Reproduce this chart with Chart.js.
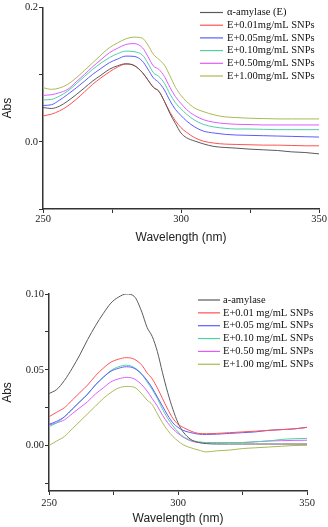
<!DOCTYPE html>
<html>
<head>
<meta charset="utf-8">
<script src="https://cdn.jsdelivr.net/npm/chart.js@4.4.1/dist/chart.umd.min.js"></script>
<style>
  html, body { margin: 0; padding: 0; background: #fff; }
  .box { position: absolute; left: 0; width: 328px; }
</style>
</head>
<body>
<div class="box" style="top:0;height:260px"><canvas id="top"></canvas></div>
<div class="box" style="top:260px;height:267px"><canvas id="bottom"></canvas></div>
<script>
// wavelengths (nm)
const wlTop = [250, 253, 256, 259, 262, 265, 268, 271, 274, 277, 280, 283, 286, 288, 290, 292, 294, 296, 298, 300, 302, 305, 308, 312, 316, 320, 325, 330, 335, 340, 345, 350];
const wlBottom = [250, 253, 256, 259, 262, 265, 268, 271, 274, 277, 280, 283, 286, 288, 290, 292, 294, 296, 298, 300, 302, 305, 308, 311, 315, 320, 325, 330, 335, 340, 345, 350];

const labelsTop = ['\u03b1-amylase (E)', 'E+0.01mg/mL SNPs', 'E+0.05mg/mL SNPs', 'E+0.10mg/mL SNPs', 'E+0.50mg/mL SNPs', 'E+1.00mg/mL SNPs'];
const labelsBottom = ['a-amylase', 'E+0.01 mg/mL SNPs', 'E+0.05 mg/mL SNPs', 'E+0.10 mg/mL SNPs', 'E+0.50 mg/mL SNPs', 'E+1.00 mg/mL SNPs'];

// top panel absorbance
const topEnzyme = [0.051, 0.0495, 0.053, 0.0607, 0.070, 0.080, 0.0904, 0.099, 0.1077, 0.113, 0.116, 0.1135, 0.103, 0.092, 0.081, 0.075, 0.060, 0.042, 0.027, 0.013, 0.006, 0.001, -0.003, -0.007, -0.0085, -0.0095, -0.011, -0.012, -0.013, -0.015, -0.016, -0.018];
const top001 = [0.0385, 0.041, 0.046, 0.0533, 0.063, 0.074, 0.0855, 0.095, 0.1037, 0.111, 0.1155, 0.1135, 0.103, 0.092, 0.081, 0.075, 0.060, 0.044, 0.031, 0.021, 0.014, 0.006, 0.001, -0.002, -0.0035, -0.004, -0.0045, -0.005, -0.005, -0.0055, -0.006, -0.006];
const top005 = [0.054, 0.055, 0.062, 0.0706, 0.080, 0.090, 0.1003, 0.109, 0.1175, 0.123, 0.1274, 0.127, 0.120, 0.108, 0.095, 0.088, 0.077, 0.061, 0.048, 0.039, 0.031, 0.022, 0.016, 0.013, 0.011, 0.010, 0.0095, 0.009, 0.0085, 0.008, 0.0075, 0.007];
const top010 = [0.0622, 0.063, 0.068, 0.0755, 0.086, 0.097, 0.1077, 0.117, 0.125, 0.131, 0.1348, 0.134, 0.129, 0.117, 0.1027, 0.097, 0.087, 0.071, 0.058, 0.049, 0.041, 0.032, 0.026, 0.022, 0.020, 0.019, 0.019, 0.0185, 0.018, 0.018, 0.018, 0.018];
const top050 = [0.069, 0.070, 0.073, 0.078, 0.089, 0.100, 0.1116, 0.122, 0.1323, 0.139, 0.1447, 0.146, 0.140, 0.127, 0.1126, 0.1077, 0.097, 0.081, 0.067, 0.057, 0.048, 0.039, 0.033, 0.029, 0.027, 0.026, 0.0255, 0.025, 0.025, 0.025, 0.025, 0.025];
const top100 = [0.0805, 0.078, 0.080, 0.0855, 0.095, 0.106, 0.1175, 0.129, 0.1398, 0.147, 0.153, 0.1556, 0.154, 0.144, 0.130, 0.1225, 0.114, 0.098, 0.081, 0.069, 0.060, 0.050, 0.045, 0.040, 0.037, 0.036, 0.035, 0.0345, 0.034, 0.034, 0.034, 0.034];

// bottom panel absorbance
const botEnzyme = [0.0343, 0.037, 0.043, 0.051, 0.060, 0.070, 0.079, 0.087, 0.094, 0.098, 0.100, 0.0985, 0.088, 0.078, 0.072, 0.062, 0.048, 0.035, 0.024, 0.015, 0.009, 0.004, 0.002, 0.0013, 0.001, 0.001, 0.001, 0.001, 0.001, 0.001, 0.001, 0.001];
const bot001 = [0.019, 0.022, 0.025, 0.030, 0.035, 0.040, 0.046, 0.051, 0.055, 0.057, 0.058, 0.057, 0.053, 0.048, 0.044, 0.038, 0.031, 0.024, 0.018, 0.014, 0.012, 0.0095, 0.008, 0.0078, 0.008, 0.0085, 0.009, 0.0095, 0.010, 0.0105, 0.011, 0.012];
const bot005 = [0.014, 0.016, 0.019, 0.024, 0.029, 0.034, 0.040, 0.045, 0.049, 0.051, 0.052, 0.051, 0.047, 0.043, 0.038, 0.032, 0.026, 0.020, 0.015, 0.012, 0.010, 0.0085, 0.0075, 0.0073, 0.0075, 0.008, 0.0085, 0.009, 0.010, 0.0105, 0.011, 0.012];
const bot010 = [0.0125, 0.015, 0.019, 0.024, 0.029, 0.034, 0.040, 0.045, 0.0495, 0.052, 0.053, 0.0515, 0.047, 0.042, 0.037, 0.031, 0.024, 0.018, 0.013, 0.009, 0.006, 0.0035, 0.0025, 0.002, 0.002, 0.002, 0.002, 0.0025, 0.003, 0.004, 0.0045, 0.0047];
const bot050 = [0.0135, 0.015, 0.017, 0.021, 0.025, 0.029, 0.034, 0.038, 0.042, 0.044, 0.045, 0.044, 0.040, 0.036, 0.031, 0.026, 0.020, 0.015, 0.011, 0.008, 0.0055, 0.003, 0.002, 0.0018, 0.0018, 0.002, 0.002, 0.0025, 0.003, 0.0032, 0.0034, 0.0035];
const bot100 = [0.000, 0.003, 0.006, 0.011, 0.016, 0.021, 0.026, 0.031, 0.035, 0.038, 0.039, 0.0385, 0.034, 0.030, 0.027, 0.021, 0.015, 0.010, 0.006, 0.003, 0.0005, -0.0015, -0.003, -0.0042, -0.0035, -0.003, -0.002, -0.0015, -0.001, -0.0005, 0.0, 0.0002];

const xTicks = [250, 275, 300, 325, 350];
const xLabelled = [250, 300, 350];
const yTicksTop = [-0.1, 0, 0.1, 0.2];
const yLabelledTop = [0, 0.2];
const yTicksBottom = [-0.025, 0, 0.025, 0.05, 0.075, 0.1];
const yLabelledBottom = [0, 0.05, 0.1];

const colors = ['#5a5a5a', '#ff5252', '#5c5cff', '#52cfa4', '#dd5cff', '#a9ba55'];

// legend drawn inside the plot, short line + label
const lineLegend = {
  id: 'lineLegend',
  afterDraw(chart, args, opts) {
    const ctx = chart.ctx;
    ctx.save();
    ctx.font = '10.5px "Liberation Serif"';
    ctx.textBaseline = 'middle';
    ctx.fillStyle = '#111';
    chart.data.datasets.forEach((ds, i) => {
      const y = opts.y + i * opts.step;
      ctx.strokeStyle = ds.borderColor;
      ctx.lineWidth = 1.2;
      ctx.beginPath();
      ctx.moveTo(opts.x, y);
      ctx.lineTo(opts.x + opts.len, y);
      ctx.stroke();
      ctx.fillText(ds.label, opts.x + opts.len + opts.gap, y);
    });
    ctx.restore();
  }
};

const near = (list, v) => list.some(s => Math.abs(s - v) < 1e-9);

function makeChart(id, wl, series, labels, y, box) {
  const datasets = series.map((vals, i) => ({
    label: labels[i],
    data: vals.map((v, j) => ({ x: wl[j], y: v })),
    borderColor: colors[i],
    borderWidth: 1,
    pointRadius: 0,
    cubicInterpolationMode: 'monotone',
    fill: false
  }));
  const axisGrid = { display: true, drawOnChartArea: false, drawTicks: true, tickLength: 4, color: '#333', tickWidth: 1 };
  const axisBorder = { display: true, color: '#333', width: 1.5 };
  return new Chart(document.getElementById(id), {
    type: 'line',
    data: { datasets },
    plugins: [lineLegend],
    options: {
      responsive: true,
      maintainAspectRatio: false,
      animation: false,
      layout: { padding: box.padding },
      plugins: {
        legend: { display: false },
        tooltip: { enabled: false },
        lineLegend: box.legend
      },
      scales: {
        x: {
          type: 'linear',
          min: 250,
          max: 350,
          afterBuildTicks: axis => { axis.ticks = xTicks.map(v => ({ value: v })); },
          afterFit: s => { s.height = box.xHeight; },
          ticks: {
            padding: box.xPad,
            color: '#222',
            font: { family: 'Liberation Serif', size: 10.5 },
            maxRotation: 0,
            callback: v => near(xLabelled, v) ? String(v) : ''
          },
          grid: axisGrid,
          border: axisBorder,
          title: { display: true, text: 'Wavelength (nm)', color: '#222', padding: 0, font: { family: 'Liberation Sans', size: 12 } }
        },
        y: {
          min: y.min,
          max: y.max,
          afterBuildTicks: axis => { axis.ticks = y.ticks.map(v => ({ value: v })); },
          afterFit: s => { s.width = box.yWidth; },
          ticks: {
            padding: 1,
            color: '#222',
            font: { family: 'Liberation Serif', size: 10.5 },
            callback: v => near(y.labelled, v) ? v.toFixed(y.decimals) : ''
          },
          grid: axisGrid,
          border: axisBorder,
          title: { display: true, text: 'Abs', color: '#222', padding: 0, font: { family: 'Liberation Sans', size: 12 } }
        }
      }
    }
  });
}

makeChart('top', wlTop, [topEnzyme, top001, top005, top010, top050, top100], labelsTop,
  { min: -0.1, max: 0.2, ticks: yTicksTop, labelled: yLabelledTop, decimals: 1 },
  { padding: { top: 6, right: 9, bottom: 15, left: 0 }, xHeight: 36, yWidth: 43, xPad: 0,
    legend: { x: 200, y: 12.5, step: 12.7, len: 23, gap: 4 } });

makeChart('bottom', wlBottom, [botEnzyme, bot001, bot005, bot010, bot050, bot100], labelsBottom,
  { min: -0.03, max: 0.1, ticks: yTicksBottom, labelled: yLabelledBottom, decimals: 2 },
  { padding: { top: 34, right: 21, bottom: 1, left: 0 }, xHeight: 35, yWidth: 49, xPad: 2,
    legend: { x: 198, y: 40, step: 12.85, len: 22, gap: 3 } });
</script>
</body>
</html>
